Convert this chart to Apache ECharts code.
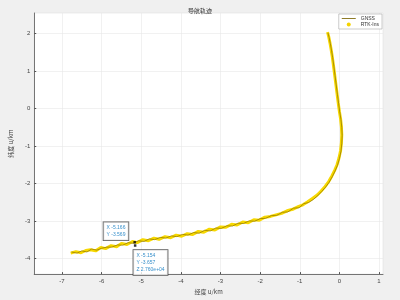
<!DOCTYPE html>
<html><head><meta charset="utf-8">
<script src="https://cdn.jsdelivr.net/npm/echarts@6/dist/echarts.min.js"></script>
<style>html,body{margin:0;padding:0;background:#f0f0f0;}#c{width:400px;height:300px;}</style>
</head><body><div id="c"></div>
<script>
const titleText = '导航轨迹';
const xName = '经度 u/km';
const yName = '纬度 u/km';
const legendNames = ['GNSS', 'RTK-Ins'];
const xTicks = [-7,-6,-5,-4,-3,-2,-1,0,1];
const yTicks = [-4,-3,-2,-1,0,1,2];
const rtkX = [-6.78,-6.65,-6.52,-6.4,-6.28,-6.15,-6.02,-5.9,-5.76,-5.62,-5.5,-5.36,-5.22,-5.1,-4.96,-4.82,-4.68,-4.55,-4.4,-4.26,-4.12,-3.98,-3.84,-3.7,-3.56,-3.42,-3.28,-3.14,-3.0,-2.86,-2.72,-2.58,-2.44,-2.3,-2.16,-2.02,-1.88,-1.74,-1.6,-1.46,-1.32,-1.18,-1.04,-0.92,-0.8,-0.68,-0.56,-0.46,-0.36,-0.27,-0.19,-0.12,-0.06,-0.01,0.03,0.05,0.06,0.05,0.03,0.0,-0.03,-0.06,-0.09,-0.12,-0.15,-0.18,-0.21,-0.24,-0.27,-0.3];
const rtkY = [-3.86,-3.82,-3.85,-3.79,-3.77,-3.80,-3.71,-3.74,-3.66,-3.69,-3.60,-3.63,-3.55,-3.58,-3.50,-3.53,-3.46,-3.49,-3.42,-3.45,-3.38,-3.41,-3.34,-3.36,-3.28,-3.30,-3.22,-3.24,-3.16,-3.17,-3.09,-3.11,-3.03,-3.05,-2.97,-2.98,-2.90,-2.88,-2.84,-2.80,-2.73,-2.69,-2.62,-2.57,-2.49,-2.40,-2.31,-2.20,-2.08,-1.95,-1.80,-1.65,-1.50,-1.32,-1.12,-0.92,-0.70,-0.48,-0.28,-0.08,0.15,0.40,0.65,0.90,1.15,1.38,1.58,1.76,1.92,2.04];
const gnssX = [-6.76,-6.62,-6.5,-6.37,-6.25,-6.12,-6.0,-5.87,-5.74,-5.6,-5.47,-5.33,-5.2,-5.07,-4.93,-4.8,-4.66,-4.52,-4.38,-4.24,-4.1,-3.96,-3.82,-3.68,-3.54,-3.4,-3.26,-3.12,-2.98,-2.84,-2.7,-2.56,-2.42,-2.28,-2.14,-2.0,-1.86,-1.72,-1.58,-1.44,-1.3,-1.16,-1.02,-0.9,-0.78,-0.66,-0.55,-0.45,-0.35,-0.26,-0.18,-0.11,-0.05,0.0,0.04,0.06,0.07,0.06,0.04,0.01,-0.02,-0.05,-0.08,-0.11,-0.14,-0.17,-0.2,-0.23,-0.26,-0.29];
const gnssY = [-3.83,-3.86,-3.80,-3.83,-3.75,-3.78,-3.73,-3.70,-3.70,-3.64,-3.65,-3.58,-3.60,-3.53,-3.55,-3.48,-3.50,-3.44,-3.46,-3.40,-3.42,-3.36,-3.38,-3.31,-3.33,-3.25,-3.27,-3.19,-3.20,-3.13,-3.14,-3.06,-3.07,-3.00,-3.01,-2.94,-2.93,-2.86,-2.85,-2.77,-2.76,-2.66,-2.65,-2.54,-2.51,-2.43,-2.33,-2.22,-2.10,-1.97,-1.82,-1.67,-1.52,-1.34,-1.14,-0.94,-0.72,-0.50,-0.30,-0.10,0.13,0.38,0.63,0.88,1.13,1.36,1.56,1.74,1.90,2.02];
const tip1 = [-5.166, -3.569];
const tip2 = [-5.154, -3.657];
const tip2Z = '2.760e+04';

const rtk = rtkX.map((x,i)=>[x,rtkY[i]]);
const gnss = gnssX.map((x,i)=>[x,gnssY[i]]);
const chart = echarts.init(document.getElementById('c'));
const tickFont = {fontSize:6, color:'#444', fontFamily:'Liberation Sans'};
const tipLabel = (lines)=>({show:true, formatter: lines.join('\n'), fontSize:5, lineHeight:7, color:'#0072bd',
  backgroundColor:'#fff', borderColor:'#333', borderWidth:0.8, padding:[2,3], fontFamily:'Liberation Sans'});
chart.setOption({
  backgroundColor:'#f0f0f0',
  animation:false,
  title:{text:titleText, left:'center', top:3, textStyle:{fontSize:6, fontWeight:'normal', color:'#333', fontFamily:'Noto Sans CJK SC'}},
  legend:{top:14, right:18, orient:'vertical', itemWidth:14, itemHeight:4, itemGap:1, padding:[2,3],
    backgroundColor:'#fff', borderColor:'#aaa', borderWidth:0.6, textStyle:{fontSize:5, color:'#333'},
    data:[{name:legendNames[0], icon:'path://M0,1L10,1L10,1.6L0,1.6Z'},{name:legendNames[1], icon:'circle'}]},
  grid:{left:24, top:13, right:17, bottom:22, show:true, backgroundColor:'#fff', borderColor:'#e0e0e0', borderWidth:0.6},
  xAxis:{type:'value', min:-7.7, max:1.1, name:xName, nameLocation:'middle', nameGap:11,
    nameTextStyle:{fontSize:6, color:'#444', fontFamily:'Noto Sans CJK SC'},
    axisLine:{onZero:false, lineStyle:{color:'#555', width:0.8}},
    axisTick:{inside:true, length:2, customValues:xTicks, lineStyle:{color:'#555'}},
    axisLabel:Object.assign({customValues:xTicks, margin:4}, tickFont),
    splitLine:{show:true, customValues:xTicks, lineStyle:{color:'#e8e8e8', width:0.6}}},
  yAxis:{type:'value', min:-4.42, max:2.55, name:yName, nameLocation:'middle', nameGap:14,
    nameTextStyle:{fontSize:6, color:'#444', fontFamily:'Noto Sans CJK SC'},
    axisLine:{show:true, onZero:false, lineStyle:{color:'#555', width:0.8}},
    axisTick:{show:true, inside:true, length:2, customValues:yTicks, lineStyle:{color:'#555'}},
    axisLabel:Object.assign({customValues:yTicks, margin:4}, tickFont),
    splitLine:{show:true, customValues:yTicks, lineStyle:{color:'#e8e8e8', width:0.6}}},
  series:[
    {name:legendNames[1], type:'line', data:rtk, showSymbol:false, symbol:'circle', color:'#f5d300',
      lineStyle:{width:3, color:'#f7d800'}, z:2},
    {name:legendNames[0], type:'line', data:gnss, showSymbol:false, color:'#7a6400',
      lineStyle:{width:0.7, color:'#8a7000'}, z:3},
    {type:'scatter', symbol:'rect', symbolSize:2.5, itemStyle:{color:'#000'}, z:5,
      data:[
        {value:tip1, label:Object.assign(tipLabel(['X -5.166','Y -3.569']), {position:'left', offset:[0,-11]})},
        {value:tip2, label:Object.assign(tipLabel(['X -5.154','Y -3.657','Z '+tip2Z]), {position:'right', offset:[-8,17]})}
      ]}
  ]
});
</script></body></html>
